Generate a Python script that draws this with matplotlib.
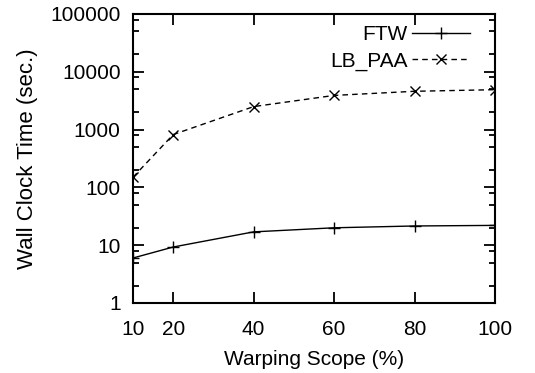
"""Wall clock time vs warping scope (FTW vs LB_PAA)."""
import matplotlib
matplotlib.use("Agg")
import matplotlib.pyplot as plt
from matplotlib.ticker import LogLocator, NullFormatter, FixedLocator

plt.rcParams['font.family'] = ['Liberation Sans', 'DejaVu Sans']

scope = [10, 20, 40, 60, 80, 100]
ftw = [6.0, 9.3, 17, 20, 21.5, 22]
lb_paa = [150, 820, 2500, 3900, 4600, 4900]

fig = plt.figure(figsize=(5.35, 3.73), dpi=100)
ax = fig.add_axes([0.2486, 0.1877, 0.6766, 0.7748])

ax.plot(scope, ftw, color='black', lw=1.0, marker='+', ms=8, mew=1.0,
        label='FTW')
ax.plot(scope, lb_paa, color='black', lw=1.0, ls=(0, (4, 3)), marker='x',
        ms=7, mew=1.0, label='LB_PAA')

ax.set_yscale('log')
ax.set_xlim(10, 100)
ax.set_ylim(1, 100000)
ax.xaxis.set_major_locator(FixedLocator(scope))
ax.yaxis.set_minor_locator(LogLocator(base=10, subs=[2, 5, 8], numticks=10))
ax.yaxis.set_minor_formatter(NullFormatter())
ax.set_yticks([1, 10, 100, 1000, 10000, 100000])
ax.set_yticklabels(['1', '10', '100', '1000', '10000', '100000'])

ax.tick_params(which='both', direction='in', top=True, right=True,
               labelsize=15, width=1.3)
ax.tick_params(axis='x', pad=12)
ax.tick_params(axis='y', pad=9)
ax.tick_params(which='major', length=8)
ax.tick_params(which='minor', length=4)
for s in ax.spines.values():
    s.set_linewidth(1.5)

ax.set_xlabel('Warping Scope (%)', fontsize=15, labelpad=8)
ax.set_ylabel('Wall Clock Time (sec.)', fontsize=16, labelpad=9)

ax.legend(loc='upper right', bbox_to_anchor=(0.931, 0.962), frameon=False,
          fontsize=15, markerfirst=False, handlelength=2.8,
          handletextpad=0.2, labelspacing=0.35, borderpad=0,
          borderaxespad=0)

fig.savefig('out.png', dpi=100)
